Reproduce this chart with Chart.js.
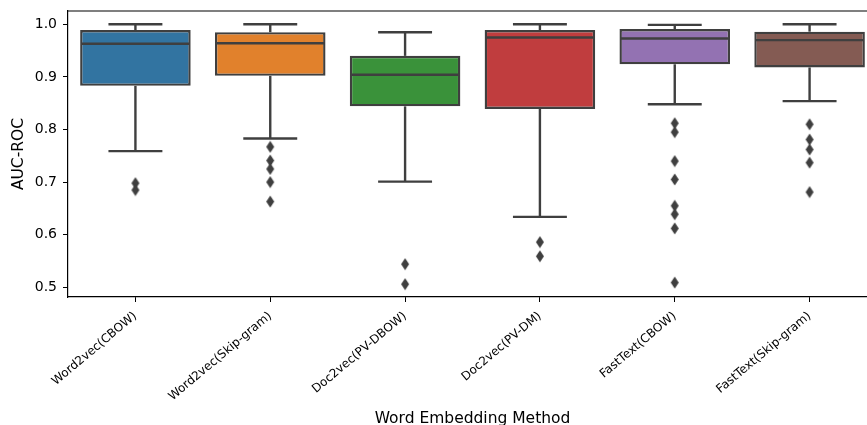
<!DOCTYPE html>
<html>
<head>
<meta charset="utf-8">
<script src="https://cdn.jsdelivr.net/npm/chart.js@4"></script>
<style>
  html, body { margin: 0; padding: 0; background: #fff; overflow: hidden; }
  #wrap { width: 867px; height: 425px; overflow: hidden; }
</style>
</head>
<body>
<div id="wrap"><canvas id="auc" width="884" height="440"></canvas></div>
<script>
// AUC-ROC per word embedding method (boxplot)
const methods = ['Word2vec(CBOW)', 'Word2vec(Skip-gram)', 'Doc2vec(PV-DBOW)', 'Doc2vec(PV-DM)', 'FastText(CBOW)', 'FastText(Skip-gram)'];
const whiskerHigh = [1.0, 1.0, 0.985, 1.0, 0.999, 1.0];
const q3 = [0.989, 0.985, 0.940, 0.989, 0.991, 0.986];
const medians = [0.963, 0.964, 0.904, 0.975, 0.973, 0.970];
const q1 = [0.883, 0.902, 0.844, 0.839, 0.924, 0.918];
const whiskerLow = [0.759, 0.783, 0.701, 0.634, 0.848, 0.854];
const outliers = [
  [0.698, 0.685],
  [0.767, 0.741, 0.725, 0.700, 0.663],
  [0.544, 0.506],
  [0.586, 0.559],
  [0.812, 0.795, 0.740, 0.705, 0.655, 0.639, 0.612, 0.509],
  [0.810, 0.781, 0.762, 0.737, 0.681]
];
const yTicks = [0.5, 0.6, 0.7, 0.8, 0.9, 1.0];

const boxColors = ['#3274a1', '#e1812c', '#3a923a', '#c03d3e', '#9372b2', '#845b53'];
const lineGray = '#3f3f3f';
const font = 'DejaVu Sans';

// thin diamond marker like matplotlib 'd'
const diamond = document.createElement('canvas');
diamond.width = 10;
diamond.height = 13;
(function () {
  const c = diamond.getContext('2d');
  c.fillStyle = lineGray;
  c.beginPath();
  c.moveTo(5, 0.5);
  c.lineTo(9, 6.5);
  c.lineTo(5, 12.5);
  c.lineTo(1, 6.5);
  c.closePath();
  c.fill();
})();

const outlierPoints = [];
outliers.forEach((vals, i) => vals.forEach(v => outlierPoints.push({ x: methods[i], y: v })));

// medians, whiskers, caps and the top spine
const boxLines = {
  id: 'boxLines',
  afterDatasetsDraw(chart) {
    const { ctx, scales: { x, y } } = chart;
    const step = x.getPixelForValue(1) - x.getPixelForValue(0);
    const boxHalf = step * 0.4;
    const capHalf = step * 0.2;
    ctx.save();
    ctx.strokeStyle = lineGray;
    ctx.lineWidth = 2.4;
    methods.forEach((m, i) => {
      const cx = x.getPixelForValue(i);
      const line = (x1, y1, x2, y2) => {
        ctx.beginPath();
        ctx.moveTo(x1, y1);
        ctx.lineTo(x2, y2);
        ctx.stroke();
      };
      line(cx - boxHalf, y.getPixelForValue(medians[i]), cx + boxHalf, y.getPixelForValue(medians[i]));
      line(cx, y.getPixelForValue(q3[i]), cx, y.getPixelForValue(whiskerHigh[i]));
      line(cx, y.getPixelForValue(q1[i]), cx, y.getPixelForValue(whiskerLow[i]));
      line(cx - capHalf, y.getPixelForValue(whiskerHigh[i]), cx + capHalf, y.getPixelForValue(whiskerHigh[i]));
      line(cx - capHalf, y.getPixelForValue(whiskerLow[i]), cx + capHalf, y.getPixelForValue(whiskerLow[i]));
    });
    const a = chart.chartArea;
    ctx.strokeStyle = '#000';
    ctx.lineWidth = 1.2;
    ctx.beginPath();
    ctx.moveTo(a.left, a.top);
    ctx.lineTo(a.right, a.top);
    ctx.stroke();
    ctx.restore();
  }
};

const ctx = document.getElementById('auc').getContext('2d');
const chart = new Chart(ctx, {
  type: 'bar',
  data: {
    labels: methods,
    datasets: [
      {
        type: 'scatter',
        data: outlierPoints,
        pointStyle: diamond,
        pointRadius: 6,
        order: 0
      },
      {
        data: methods.map((m, i) => [q1[i], q3[i]]),
        backgroundColor: boxColors,
        borderColor: lineGray,
        borderWidth: 2.4,
        borderSkipped: false,
        barPercentage: 0.82,
        categoryPercentage: 1.0,
        order: 1
      }
    ]
  },
  options: {
    responsive: false,
    animation: false,
    layout: { padding: { left: 0, right: 3, top: 11, bottom: 0 } },
    plugins: {
      legend: { display: false },
      tooltip: { enabled: false }
    },
    scales: {
      x: {
        type: 'category',
        offset: true,
        grid: { display: true, drawOnChartArea: false, offset: false, tickLength: 5, tickColor: '#000' },
        border: { color: '#000', width: 1.2 },
        ticks: {
          color: '#000',
          font: { family: font, size: 12 },
          minRotation: 40,
          maxRotation: 40,
          padding: 7,
          autoSkip: false
        },
        title: {
          display: true,
          text: 'Word Embedding Method',
          color: '#000',
          font: { family: font, size: 15.5 },
          padding: { top: 0, bottom: 12 }
        },
        afterFit(scale) {
          scale.height = 143;
          scale.paddingLeft = 0;
          scale.paddingRight = 0;
        }
      },
      y: {
        min: 0.4816,
        max: 1.0253,
        grid: { display: true, drawOnChartArea: false, tickLength: 5, tickColor: '#000' },
        border: { color: '#000', width: 1.2 },
        afterBuildTicks(scale) { scale.ticks = yTicks.map(v => ({ value: v })); },
        ticks: {
          color: '#000',
          font: { family: font, size: 14 },
          padding: 6,
          callback: v => v.toFixed(1)
        },
        title: {
          display: true,
          text: 'AUC-ROC',
          color: '#000',
          font: { family: font, size: 15.5 },
          padding: { top: 10, bottom: 0 }
        },
        afterFit(scale) {
          scale.width = 68;
          scale.paddingTop = 0;
          scale.paddingBottom = 0;
        }
      }
    }
  },
  plugins: [boxLines]
});
</script>
</body>
</html>
